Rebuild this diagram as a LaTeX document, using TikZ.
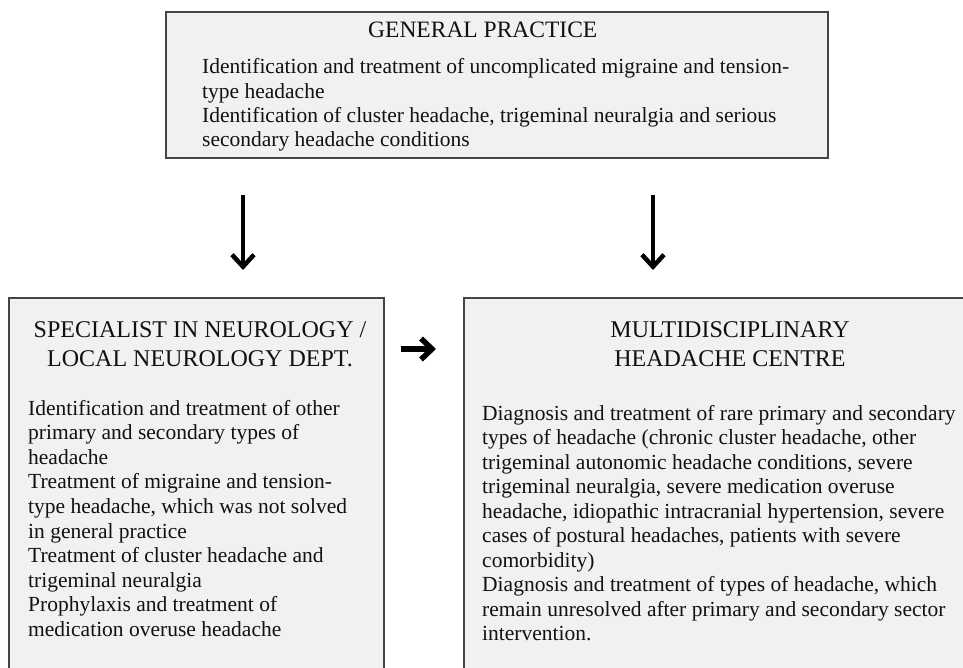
\documentclass[tikz,border=0pt]{standalone}
\usepackage{fontspec}
\setmainfont{Liberation Serif}
\usetikzlibrary{arrows.meta}
\definecolor{boxfill}{HTML}{F1F1F1}
\definecolor{boxline}{HTML}{454545}
\definecolor{ink}{HTML}{111111}
\begin{document}
\begin{tikzpicture}[x=1pt,y=-1pt,
  box/.style={draw=boxline, fill=boxfill, line width=1.6pt, inner sep=0pt, anchor=north west},
  titletext/.style={font=\fontsize{24}{29}\selectfont, text=ink, inner sep=0pt, anchor=base},
  bodytext/.style={font=\fontsize{21.5}{24.5}\selectfont, text=ink, inner sep=0pt, anchor=base west},
  varr/.style={draw=black, line width=3.5pt, -{Straight Barb[length=12pt,width=22pt,line width=4.5pt]}},
  harr/.style={draw=black, line width=5.5pt, -{Straight Barb[length=11pt,width=21pt,line width=5.5pt]}}
]
\useasboundingbox (0,0) rectangle (963,668);
\clip (0,0) rectangle (963,668);
\fill[white] (0,0) rectangle (963,668);

% boxes
\node[box, minimum width=662pt, minimum height=146pt] (gp) at (165,11) {};
\node[box, minimum width=375pt, minimum height=420pt] (spec) at (8,297) {};
\node[box, minimum width=540pt, minimum height=420pt] (mdc) at (463,297) {};

% general practice
\node[titletext, anchor=base west, font=\fontsize{23.5}{28}\selectfont] (gptitle) at (368,38) {GENERAL PRACTICE};
\foreach \t [count=\i from 0] in {
  {Identification and treatment of uncomplicated migraine and tension-},
  {type headache},
  {Identification of cluster headache, trigeminal neuralgia and serious},
  {secondary headache conditions}}
  \node[bodytext] (gpl\i) at (202,{74+24.2*\i}) {\t};

% specialist
\node[titletext] (spect1) at (200,337) {SPECIALIST IN NEUROLOGY /};
\node[titletext] (spect2) at (200,366) {LOCAL NEUROLOGY DEPT.};
\foreach \t [count=\i from 0] in {
  {Identification and treatment of other},
  {primary and secondary types of},
  {headache},
  {Treatment of migraine and tension-},
  {type headache, which was not solved},
  {in general practice},
  {Treatment of cluster headache and},
  {trigeminal neuralgia},
  {Prophylaxis and treatment of},
  {medication overuse headache}}
  \node[bodytext] (specl\i) at (28,{415+24.6*\i}) {\t};

% multidisciplinary
\node[titletext] (mdct1) at (730,337) {MULTIDISCIPLINARY};
\node[titletext] (mdct2) at (730,366) {HEADACHE CENTRE};
\foreach \t [count=\i from 0] in {
  {Diagnosis and treatment of rare primary and secondary},
  {types of headache (chronic cluster headache, other},
  {trigeminal autonomic headache conditions, severe},
  {trigeminal neuralgia, severe medication overuse},
  {headache, idiopathic intracranial hypertension, severe},
  {cases of postural headaches, patients with severe},
  {comorbidity)},
  {Diagnosis and treatment of types of headache, which},
  {remain unresolved after primary and secondary sector},
  {intervention.}}
  \node[bodytext] (mdcl\i) at (482,{420+24.5*\i}) {\t};

% arrows
\coordinate (xl) at (243,0);
\coordinate (xr) at (653,0);
\coordinate (yh) at (0,349);
\draw[varr, shorten <=36pt, shorten >=27pt] (gp.south -| xl) -- (spec.north -| xl);
\draw[varr, shorten <=36pt, shorten >=27pt] (gp.south -| xr) -- (mdc.north -| xr);
\draw[harr, shorten <=16pt, shorten >=27pt] (spec.east |- yh) -- (mdc.west |- yh);
\end{tikzpicture}
\end{document}
